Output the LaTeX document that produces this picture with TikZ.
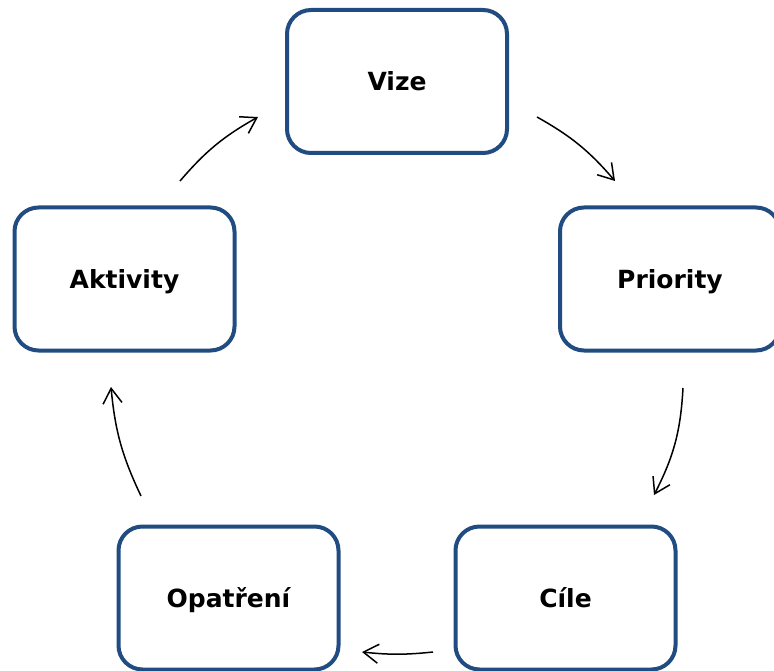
\documentclass[tikz,border=0pt]{standalone}
\usepackage{fontspec}
\setmainfont{DejaVu Sans}
\usetikzlibrary{arrows.meta}
\definecolor{boxblue}{RGB}{33,76,130}
\tikzset{
  stagebox/.style={draw=boxblue, line width=4pt, rectangle, rounded corners=24pt,
    minimum width=220pt, minimum height=143pt, fill=white,
    font=\fontsize{25}{30}\selectfont\bfseries, text=black, inner sep=0pt,
    text height=18.2pt, text depth=0pt},
  flow/.style={line width=1.5pt, draw=black,
    -{Straight Barb[length=15pt,width=19pt,line width=1.5pt]}}
}
\begin{document}
\begin{tikzpicture}[x=1pt,y=-1pt]
\useasboundingbox (0,0) rectangle (774,671);
\clip (0,0) rectangle (774,671);
\fill[white] (0,0) rectangle (774,671);
\node[stagebox] (vize) at (397,81.5) {Vize};
\node[stagebox] (priority) at (670,279) {Priority};
\node[stagebox] (aktivity) at (124.5,279) {Aktivity};
\node[stagebox] (opatreni) at (228.5,598) {Opatření};
\node[stagebox] (cile) at (565.5,598) {Cíle};
\coordinate (a1s) at (537,117);
\coordinate (a1e) at (615,181);
\coordinate (a2s) at (683,388);
\coordinate (a2e) at (654,495);
\coordinate (a3s) at (433,652);
\coordinate (a3e) at (362,652);
\coordinate (a4s) at (141,496);
\coordinate (a4e) at (111,387);
\coordinate (a5s) at (180,181);
\coordinate (a5e) at (258,117);
\draw[flow] (a1s) to[bend left=10] (a1e);
\draw[flow] (a2s) to[bend left=12] (a2e);
\draw[flow] (a3s) to[bend left=6] (a3e);
\draw[flow] (a4s) to[bend left=10] (a4e);
\draw[flow] (a5s) to[bend left=10] (a5e);
\end{tikzpicture}
\end{document}
